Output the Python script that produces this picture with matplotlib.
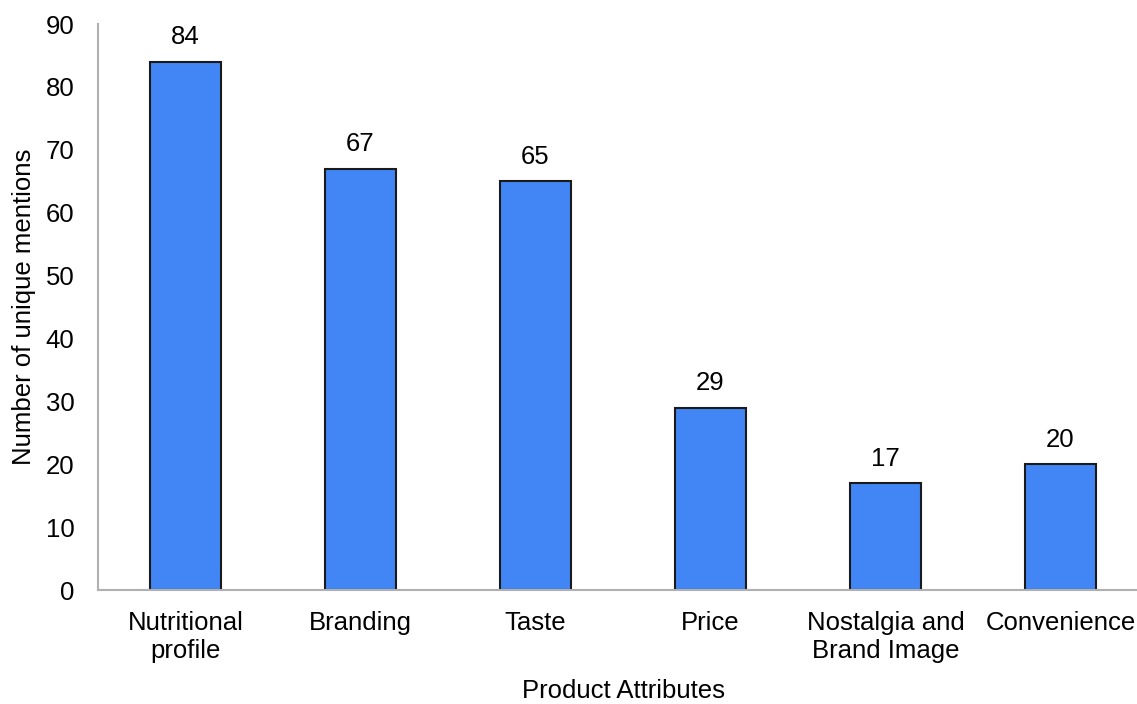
import matplotlib
matplotlib.use("Agg")
import matplotlib.pyplot as plt

categories = ["Nutritional\nprofile", "Branding", "Taste", "Price",
              "Nostalgia and\nBrand Image", "Convenience"]
values = [84, 67, 65, 29, 17, 20]
yticks = [0, 10, 20, 30, 40, 50, 60, 70, 80, 90]

plt.rcParams['font.family'] = ['Liberation Sans', 'DejaVu Sans']
fs = 18.5

fig = plt.figure(figsize=(11.37, 7.04), dpi=100)
ax = fig.add_axes([98/1137, (704-590)/704, 1050/1137, 566/704])

x = list(range(len(categories)))
bars = ax.bar(x, values, width=0.405, color="#4285F4", edgecolor="#1a1a1a", linewidth=1.5)
for xi, v in zip(x, values):
    ax.annotate(str(v), (xi, v), xytext=(0, 9), textcoords="offset points",
                ha="center", va="bottom", fontsize=fs)

ax.set_xlim(-0.5, len(categories) - 0.5)
ax.set_ylim(0, 90)
ax.set_yticks(yticks)
ax.set_xticks(x)
ax.set_xticklabels(categories, fontsize=fs, linespacing=1.2)
ax.tick_params(axis='y', length=0, pad=17, labelsize=fs)
ax.tick_params(axis='x', length=0, pad=15, labelsize=fs)
for s in ["top", "right"]:
    ax.spines[s].set_visible(False)
for s in ["left", "bottom"]:
    ax.spines[s].set_color("#b0b0b0")
    ax.spines[s].set_linewidth(1.5)

ax.set_ylabel("Number of unique mentions", fontsize=fs, labelpad=7)
ax.set_xlabel("Product Attributes", fontsize=fs, labelpad=12)

fig.savefig("out.png", dpi=100)
